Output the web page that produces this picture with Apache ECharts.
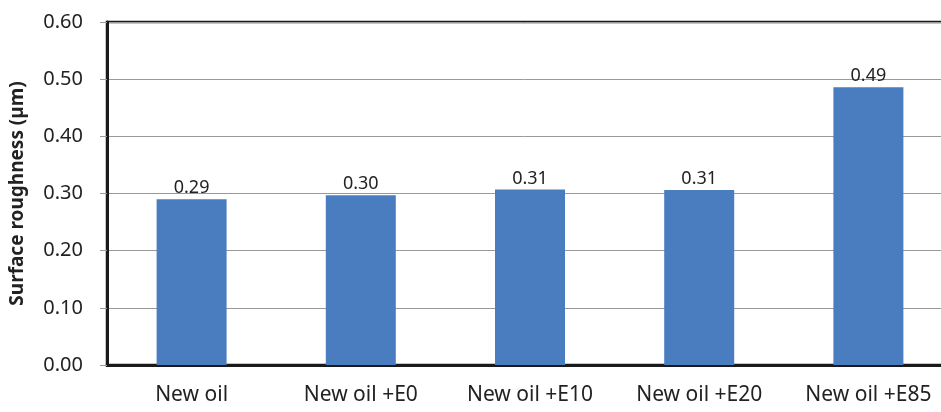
<!DOCTYPE html>
<html><head><meta charset="utf-8">
<script src="https://cdn.jsdelivr.net/npm/echarts@6/dist/echarts.min.js"></script>
<style>html,body{margin:0;padding:0;background:#fff}#c{width:941px;height:412px}</style>
</head><body><div id="c"></div>
<script>
const categories = ['New oil', 'New oil +E0', 'New oil +E10', 'New oil +E20', 'New oil +E85'];
const roughness = [0.290, 0.297, 0.307, 0.306, 0.486];
const yTicks = { min: 0, max: 0.6, interval: 0.1 };
const yTitle = 'Surface roughness (µm)';

const chart = echarts.init(document.getElementById('c'));
chart.setOption({
  animation: false,
  grid: { left: 107, top: 22, right: -12, bottom: 47, outerBoundsMode: 'none', containLabel: false,
          show: true, borderColor: '#1a1a1a', borderWidth: 2.5, backgroundColor: '#fff' },
  xAxis: {
    type: 'category', data: categories,
    axisLine: { lineStyle: { color: '#1a1a1a', width: 3 } },
    axisTick: { show: false },
    axisLabel: { color: '#222', fontSize: 21, fontFamily: 'Noto Sans', margin: 20, interval: 0 }
  },
  yAxis: {
    type: 'value', min: yTicks.min, max: yTicks.max, interval: yTicks.interval,
    name: yTitle, nameLocation: 'middle', nameGap: 80, nameRotate: 90,
    nameTextStyle: { color: '#222', fontSize: 19, fontWeight: 'bold', fontFamily: 'Noto Sans' },
    axisLine: { show: true, lineStyle: { color: '#1a1a1a', width: 3 } },
    axisTick: { show: true, length: 7, lineStyle: { color: '#999' } },
    axisLabel: { color: '#222', fontSize: 20, fontFamily: 'Noto Sans', margin: 24, formatter: v => v.toFixed(2) },
    splitLine: { lineStyle: { color: '#999', width: 1 } }
  },
  series: [{
    type: 'bar', data: roughness, barWidth: 70,
    itemStyle: { color: '#4a7dbf' },
    label: { show: true, position: 'top', distance: 2, color: '#222', fontSize: 18, fontFamily: 'Noto Sans', formatter: p => p.value.toFixed(2) }
  }]
});
</script></body></html>
